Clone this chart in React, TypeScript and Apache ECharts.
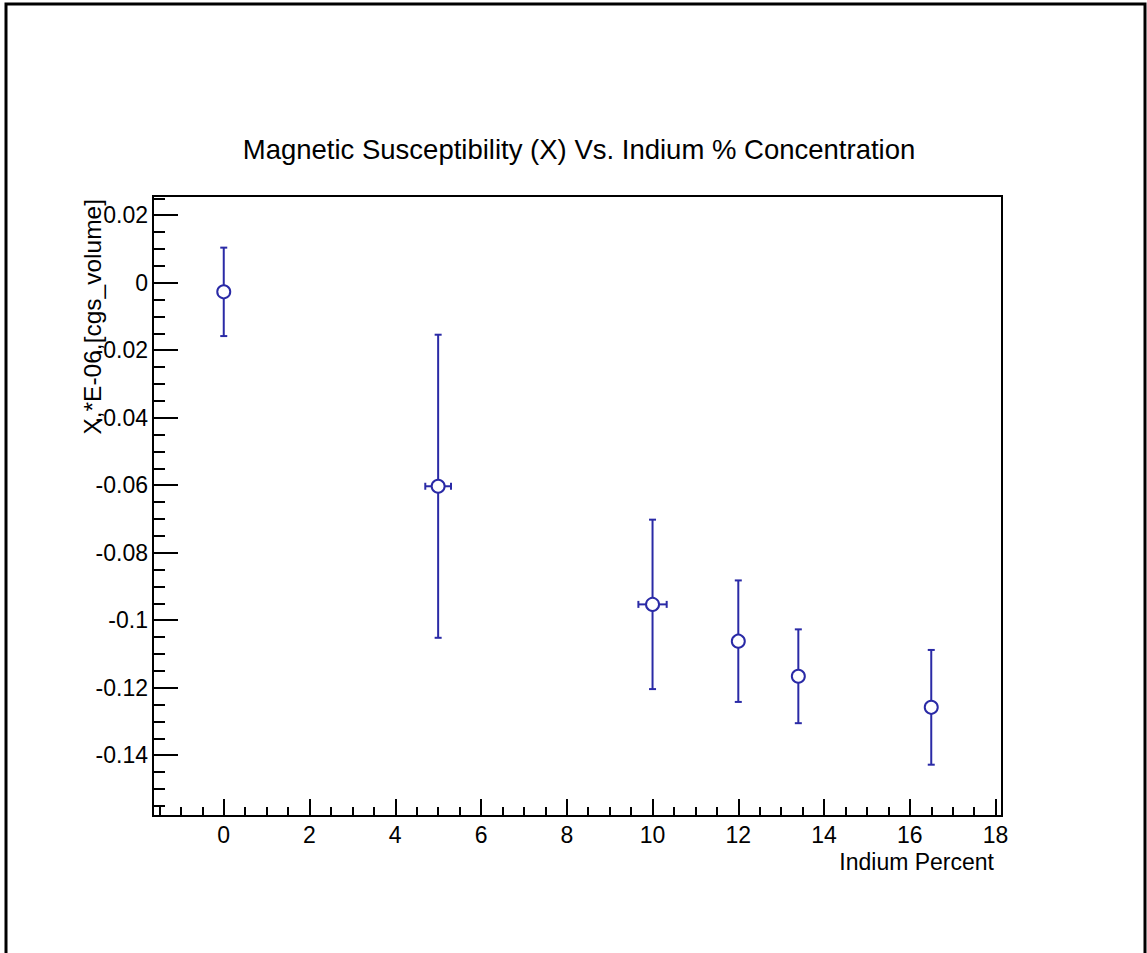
import React, { useEffect, useRef } from "react";
import * as echarts from "echarts";

// Measured susceptibility per indium concentration
const indiumPercent = [0, 5, 10, 12, 13.4, 16.5];
const susceptibility = [-0.0027, -0.0603, -0.0953, -0.1062, -0.1166, -0.1258];
const susceptibilityErr = [0.0131, 0.0449, 0.0251, 0.018, 0.0139, 0.017];
const percentErr = [0, 0.3, 0.33, 0, 0, 0];

// Axis ranges and labelled ticks
const xRange = [-1.65, 18.15];
const yRange = [-0.158, 0.0257];
const xMajorTicks = [0, 2, 4, 6, 8, 10, 12, 14, 16, 18];
const yMajorTicks = [-0.14, -0.12, -0.1, -0.08, -0.06, -0.04, -0.02, 0, 0.02];

const TITLE = "Magnetic Susceptibility (X) Vs. Indium % Concentration";
const X_TITLE = "Indium Percent";
const Y_TITLE = "X,*E-06,[cgs_volume]";

const BLUE = "#2a2aa6";
const FONT = "'Liberation Sans', Arial, Helvetica, sans-serif";

// Four minor divisions per major step, limited to the axis range
function minorTicks(majors: number[], range: number[]): number[] {
  const step = (majors[1] - majors[0]) / 4;
  const out: number[] = [];
  const start = Math.ceil(range[0] / step);
  const end = Math.floor(range[1] / step);
  for (let i = start; i <= end; i++) {
    const v = +(i * step).toFixed(6);
    if (!majors.some((m) => Math.abs(m - v) < 1e-9)) out.push(v);
  }
  return out;
}

export default function App() {
  const ref = useRef<HTMLDivElement>(null);

  useEffect(() => {
    if (!ref.current) return;
    const chart = echarts.init(ref.current, null, { renderer: "svg" });

    const points = indiumPercent.map((x, i) => [x, susceptibility[i]]);
    const bars = indiumPercent.map((x, i) => [
      x,
      susceptibility[i],
      percentErr[i],
      susceptibilityErr[i],
    ]);

    const axisText = { color: "#000", fontSize: 23, fontFamily: FONT };
    const tickLine = { color: "#000", width: 2 };

    chart.setOption({
      animation: false,
      backgroundColor: "#fff",
      title: {
        text: TITLE,
        left: 574,
        textAlign: "center",
        top: 130,
        textStyle: { color: "#000", fontSize: 27.5, fontWeight: "normal", fontFamily: FONT },
      },
      grid: {
        left: 153,
        top: 196,
        right: 145,
        bottom: 137,
        containLabel: false,
        show: true,
        borderColor: "#000",
        borderWidth: 2,
      },
      xAxis: [
        {
          type: "value",
          min: xRange[0],
          max: xRange[1],
          position: "bottom",
          name: X_TITLE,
          nameLocation: "end",
          nameGap: -8,
          nameTextStyle: {
            ...axisText,
            align: "right",
            verticalAlign: "top",
            padding: [34, 0, 0, 0],
          },
          axisLine: { show: true, onZero: false, lineStyle: tickLine },
          axisTick: {
            show: true,
            inside: true,
            length: 17,
            customValues: xMajorTicks,
            lineStyle: tickLine,
          },
          axisLabel: { show: true, customValues: xMajorTicks, margin: 7, ...axisText },
          splitLine: { show: false },
        },
        {
          type: "value",
          min: xRange[0],
          max: xRange[1],
          position: "bottom",
          axisLine: { show: false, onZero: false },
          axisTick: {
            show: true,
            inside: true,
            length: 9,
            customValues: minorTicks(xMajorTicks, xRange),
            lineStyle: tickLine,
          },
          axisLabel: { show: false },
          splitLine: { show: false },
        },
      ],
      yAxis: [
        {
          type: "value",
          min: yRange[0],
          max: yRange[1],
          position: "left",
          axisLine: { show: true, onZero: false, lineStyle: tickLine },
          axisTick: {
            show: true,
            inside: true,
            length: 25,
            customValues: yMajorTicks,
            lineStyle: tickLine,
          },
          axisLabel: { show: true, customValues: yMajorTicks, margin: 5, ...axisText },
          splitLine: { show: false },
        },
        {
          type: "value",
          min: yRange[0],
          max: yRange[1],
          position: "left",
          axisLine: { show: false, onZero: false },
          axisTick: {
            show: true,
            inside: true,
            length: 12,
            customValues: minorTicks(yMajorTicks, yRange),
            lineStyle: tickLine,
          },
          axisLabel: { show: false },
          splitLine: { show: false },
        },
      ],
      graphic: [
        {
          type: "polyline",
          silent: true,
          shape: { points: [[6, 953], [6, 4], [1145, 4], [1145, 953]] },
          style: { stroke: "#000", lineWidth: 3, fill: "none" },
        },
        {
          // y-axis title, read bottom to top and ending at the frame's top
          type: "text",
          silent: true,
          x: 92,
          y: 199,
          rotation: Math.PI / 2,
          style: {
            text: Y_TITLE,
            align: "right",
            verticalAlign: "middle",
            fill: "#000",
            font: `24.5px ${FONT}`,
          },
        },
      ],
      series: [
        {
          type: "custom",
          name: "errors",
          xAxisIndex: 0,
          yAxisIndex: 0,
          data: bars,
          z: 2,
          clip: false,
          renderItem: (params: any, api: any) => {
            const x = api.value(0);
            const y = api.value(1);
            const ex = api.value(2);
            const ey = api.value(3);
            const top = api.coord([x, y + ey]);
            const bot = api.coord([x, y - ey]);
            const cap = 3.5;
            const style = { stroke: BLUE, lineWidth: 2 };
            const children: any[] = [
              { type: "line", shape: { x1: top[0], y1: top[1], x2: bot[0], y2: bot[1] }, style },
              { type: "line", shape: { x1: top[0] - cap, y1: top[1], x2: top[0] + cap, y2: top[1] }, style },
              { type: "line", shape: { x1: bot[0] - cap, y1: bot[1], x2: bot[0] + cap, y2: bot[1] }, style },
            ];
            if (ex > 0) {
              const l = api.coord([x - ex, y]);
              const r = api.coord([x + ex, y]);
              children.push(
                { type: "line", shape: { x1: l[0], y1: l[1], x2: r[0], y2: r[1] }, style },
                { type: "line", shape: { x1: l[0], y1: l[1] - cap, x2: l[0], y2: l[1] + cap }, style },
                { type: "line", shape: { x1: r[0], y1: r[1] - cap, x2: r[0], y2: r[1] + cap }, style }
              );
            }
            return { type: "group", children };
          },
        },
        {
          type: "scatter",
          name: "susceptibility",
          xAxisIndex: 0,
          yAxisIndex: 0,
          data: points,
          z: 3,
          symbol: "circle",
          symbolSize: 13,
          itemStyle: { color: "#fff", borderColor: BLUE, borderWidth: 2, opacity: 1 },
          emphasis: { disabled: true },
        },
      ],
    });

    return () => chart.dispose();
  }, []);

  return (
    <div
      ref={ref}
      style={{ position: "absolute", left: 0, top: 0, width: 1147, height: 953, background: "#fff" }}
    />
  );
}
